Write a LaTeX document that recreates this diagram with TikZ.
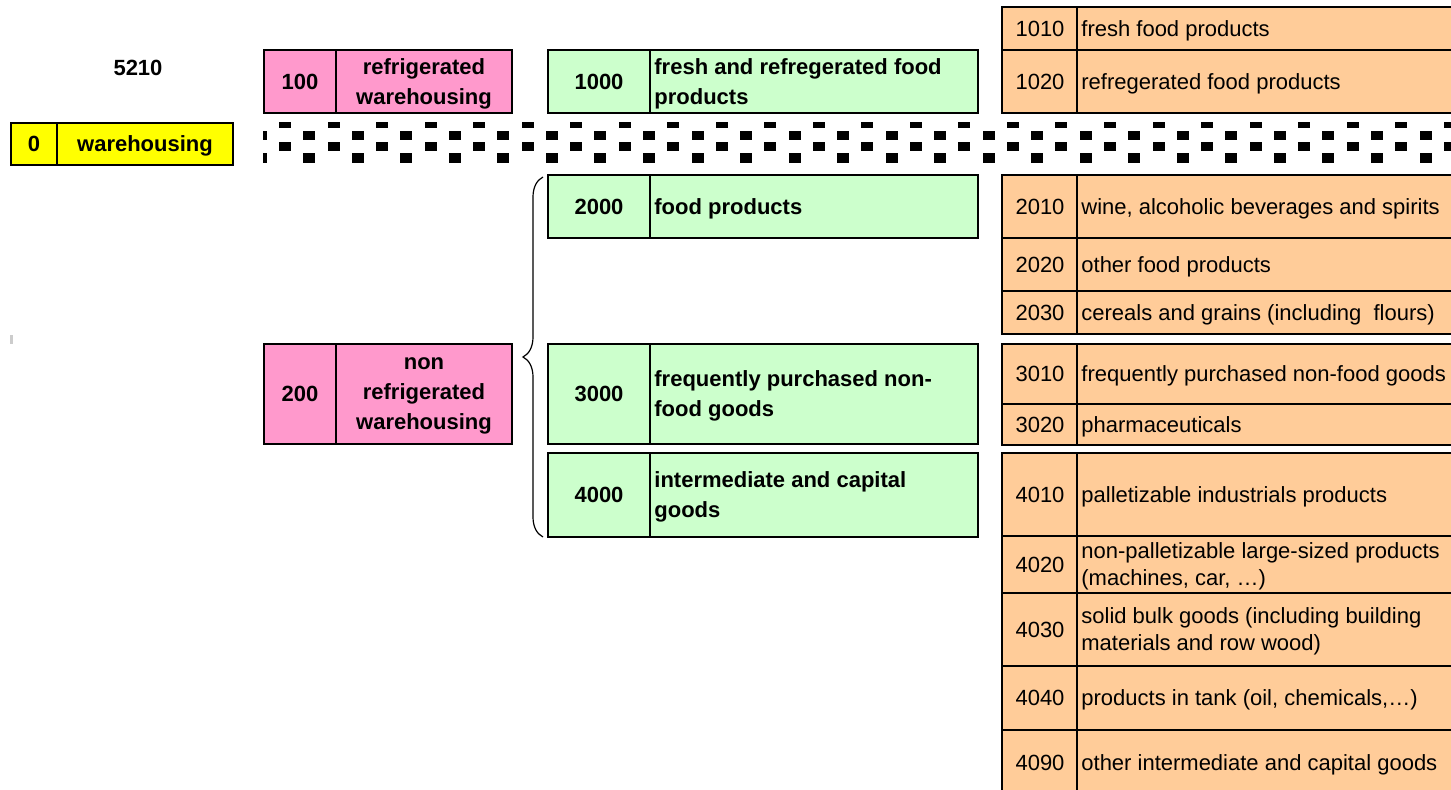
\documentclass[tikz,border=0pt]{standalone}
\usepackage{fontspec}
\setmainfont{Liberation Sans}
\usetikzlibrary{decorations.pathreplacing}
\definecolor{yellowbox}{HTML}{FFFF00}
\definecolor{pinkbox}{HTML}{FF99CC}
\definecolor{greenbox}{HTML}{CCFFCC}
\definecolor{orangebox}{HTML}{FFCC99}
\tikzset{
  cell/.style={draw, line width=1.2pt},
  code/.style={font=\bfseries\fontsize{11}{15}\selectfont, inner sep=0pt, text depth=0pt, align=center},
  head/.style={font=\bfseries\fontsize{11}{15}\selectfont, inner sep=0pt, text depth=0pt, align=left, anchor=west},
  sub/.style={font=\fontsize{11}{13.5}\selectfont, inner sep=0pt, text depth=0pt},
  subtxt/.style={font=\fontsize{11}{13.5}\selectfont, inner sep=0pt, text depth=0pt, align=left, anchor=west},
}

\begin{document}
\begin{tikzpicture}[x=0.5pt,y=-0.5pt]
\useasboundingbox (0,0) rectangle (1451,790);

% level 0
\node[code] (top) at (138,68) {5210};
\draw[cell, fill=yellowbox] (11,123) rectangle (233,165);
\draw[cell] (57,123) -- (57,165);
\node[code] (c0) at (34,144) {0};
\node[code] (t0) at (145,144) {warehousing};
\fill[gray!40] (10,335) rectangle (13,344);

% level 1
\draw[cell, fill=pinkbox] (264,50) rectangle (512,113);
\draw[cell] (336,50) -- (336,113);
\node[code] (c100) at (300,81.5) {100};
\node[code] (t100) at (424,81.5) {refrigerated\\warehousing};

\draw[cell, fill=pinkbox] (264,344) rectangle (512,444);
\draw[cell] (336,344) -- (336,444);
\node[code] (c200) at (300,394) {200};
\node[code] (t200) at (424,394) {non\\refrigerated\\warehousing};

% level 2
\foreach \a/\b/\n/\t in {50/113/1000/{fresh and refregerated food\\products},
                         175/238/2000/{food products},
                         344/444/3000/{frequently purchased non-\\food goods},
                         453/537/4000/{intermediate and capital\\goods}} {
  \draw[cell, fill=greenbox] (548,\a) rectangle (978,\b);
  \draw[cell] (650,\a) -- (650,\b);
  \node[code] (c\n) at (599,{(\a+\b)/2}) {\n};
  \node[head] (t\n) at (654,{(\a+\b)/2}) {\t};
}

% level 3
\foreach \a/\b/\n/\t in {7/50/1010/{fresh food products},
                         50/113/1020/{refregerated food products},
                         175/238/2010/{wine, alcoholic beverages and spirits},
                         238/291/2020/{other food products},
                         291/334/2030/{cereals and grains (including~ flours)},
                         344/404/3010/{frequently purchased non-food goods},
                         404/445/3020/{pharmaceuticals},
                         453/536/4010/{palletizable industrials products},
                         536/593/4020/{non-palletizable large-sized products\\(machines, car, …)},
                         593/666/4030/{solid bulk goods (including building\\materials and row wood)},
                         666/730/4040/{products in tank (oil, chemicals,…)},
                         730/796/4090/{other intermediate and capital goods}} {
  \draw[cell, fill=orangebox] (1002,\a) rectangle (1458,\b);
  \draw[cell] (1077,\a) -- (1077,\b);
  \node[sub] (c\n) at (1040,{(\a+\b)/2}) {\n};
  \node[subtxt] (t\n) at (1081,{(\a+\b)/2}) {\t};
}

% separator band
\begin{scope}
  \clip (263,118) rectangle (1451,167);
  \foreach \i in {-1,...,24} {
    \fill ({279+48.53*\i},122) rectangle ++(12,6);
    \fill ({303.3+48.53*\i},131) rectangle ++(12,9);
    \fill ({279+48.53*\i},142) rectangle ++(12,9);
    \fill ({303.3+48.53*\i},153) rectangle ++(12,10);
  }
\end{scope}

% brace
\coordinate (btop) at (543,177);
\coordinate (bbot) at (543,537);
\draw[line width=0.6pt, decorate, decoration={brace, amplitude=10pt}] (bbot) -- (btop);
\end{tikzpicture}
\end{document}
